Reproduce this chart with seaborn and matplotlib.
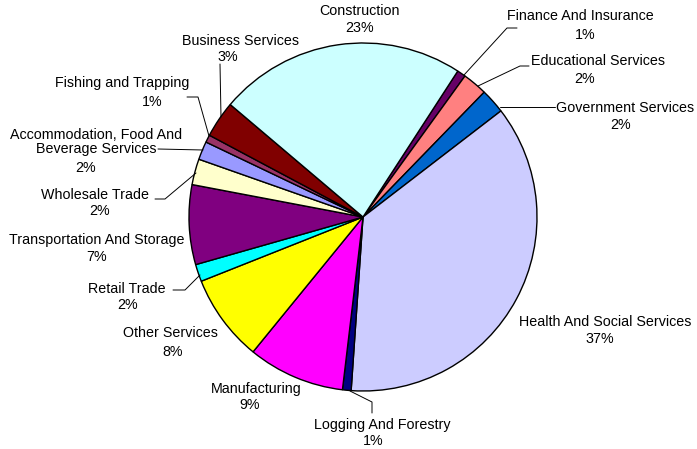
import matplotlib
matplotlib.use("Agg")
import matplotlib.pyplot as plt
import seaborn as sns

# Employment share by industry (percent), clockwise from the top-right
industries = [
    "Finance And Insurance", "Educational Services", "Government Services",
    "Health And Social Services", "Logging And Forestry", "Manufacturing",
    "Other Services", "Retail Trade", "Transportation And Storage",
    "Wholesale Trade", "Accommodation, Food And\nBeverage Services",
    "Fishing and Trapping", "Business Services", "Construction",
]
shares = [0.8, 2.3, 2.3, 36.52, 0.8, 9.0, 8.1, 1.6, 7.4, 2.4, 1.7, 0.7, 3.4, 22.98]
colors = [
    "#660066", "#FF8080", "#0066CC", "#CCCCFF", "#000080", "#FF00FF",
    "#FFFF00", "#00FFFF", "#800080", "#FFFFCC", "#9999FF", "#993366",
    "#800000", "#CCFFFF",
]

sns.set_theme(style="white")
plt.rcParams["font.family"] = ["Liberation Sans", "DejaVu Sans"]

W, H = 697, 449
fig = plt.figure(figsize=(W / 100, H / 100), dpi=100)
ax = fig.add_axes([0, 0, 1, 1])


def P(x, y):
    """Screen-style coordinates (y downward) to data coordinates."""
    return x, H - y


cx, cy = P(363, 217)
ax.pie(
    shares, colors=colors, center=(cx, cy), radius=174,
    startangle=90 - 33, counterclock=False,
    wedgeprops=dict(edgecolor="black", linewidth=1.0),
)
ax.set_xlim(0, W)
ax.set_ylim(0, H)
ax.set_aspect("equal")
ax.axis("off")

fs = 10.3
txt = dict(fontsize=fs, color="black", ha="center", va="center")

# (name position, percent position) for each label
label_pos = {
    "Finance And Insurance": ((580, 16), (585, 35)),
    "Educational Services": ((598, 61), (585, 79)),
    "Government Services": ((625, 108), (621, 125)),
    "Health And Social Services": ((605, 322), (600, 339)),
    "Logging And Forestry": ((382, 425), (373, 441)),
    "Manufacturing": ((256, 389), (250, 405)),
    "Other Services": ((170, 333), (173, 352)),
    "Retail Trade": ((127, 289), (128, 305)),
    "Transportation And Storage": ((97, 240), (97, 257)),
    "Wholesale Trade": ((95, 195), (100, 211)),
    "Accommodation, Food And\nBeverage Services": ((96, 142), (86, 168)),
    "Fishing and Trapping": ((122, 83), (152, 102)),
    "Business Services": ((240, 41), (228, 57)),
    "Construction": ((360, 11), (360, 28)),
}

for name, share in zip(industries, shares):
    (nx, ny), (px, py) = label_pos[name]
    ax.text(*P(nx, ny), name, linespacing=1.05, **txt)
    ax.text(*P(px, py), f"{share:.0f}%", **txt)

# Leader lines from small slices to their labels
leaders = [
    [(464, 75), (507, 28), (517, 28)],
    [(478, 86), (520, 66), (529, 66)],
    [(500, 107), (555, 107)],
    [(350, 391), (372, 402), (372, 413)],
    [(200, 275), (185, 290), (173, 290)],
    [(196, 173), (165, 199), (155, 199)],
    [(203, 150), (158, 149)],
    [(209, 136), (198, 97), (187, 97)],
    [(221, 117), (220, 64)],
]
for pts in leaders:
    xs, ys = zip(*[P(x, y) for x, y in pts])
    ax.plot(xs, ys, color="black", linewidth=0.7)

fig.savefig("out.png", dpi=100, facecolor="white")
